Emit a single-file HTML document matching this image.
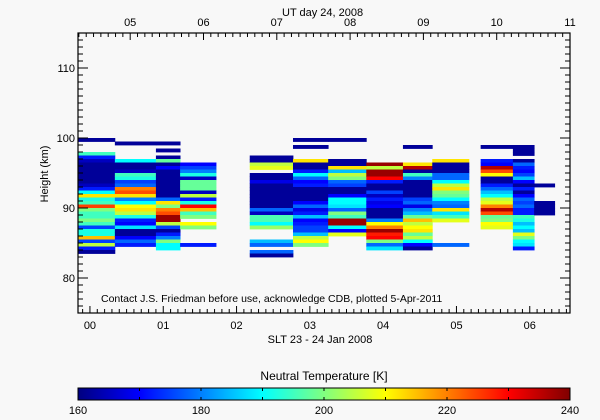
<!DOCTYPE html>
<html><head><meta charset="utf-8"><style>
html,body{margin:0;padding:0;background:#f8f8f8;}
svg{display:block;font-family:"Liberation Sans",sans-serif;}
</style></head><body>
<svg id="chart" width="600" height="420" viewBox="0 0 600 420" xmlns="http://www.w3.org/2000/svg">
<rect width="600" height="420" fill="#f8f8f8"/>
<g id="cells"></g>
<g id="axes"></g>
<text x="282" y="16" font-size="11">UT day 24, 2008</text>
<text x="320" y="343" font-size="11" text-anchor="middle">SLT 23 - 24 Jan 2008</text>
<text transform="translate(48,174) rotate(-90)" font-size="11" text-anchor="middle">Height (km)</text>
<text x="101" y="302" font-size="10.5">Contact J.S. Friedman before use, acknowledge CDB, plotted 5-Apr-2011</text>
<text x="324" y="380" font-size="12" text-anchor="middle">Neutral Temperature [K]</text>
<g id="cbar"></g>
</svg>
<script>
// column time ranges (SLT hours)
const colStart = [-0.16,0.34,0.90,1.23,2.18,2.77,3.25,3.77,4.27,4.67,5.33,5.77,6.06];
const colEnd   = [0.34,0.90,1.23,1.72,2.77,3.25,3.77,4.27,4.67,5.17,5.77,6.06,6.34];
// values per 0.5 km row starting at 100 km going down (null = no data)
const col0 = [162,null,null,null,195,172,165,162,162,162,162,162,162,165,172,190,212,192,195,225,200,195,195,200,195,175,192,192,215,175,205,172,162];
const col1 = [null,162,null,null,null,null,190,162,162,165,195,192,175,178,220,224,212,180,190,210,212,205,192,172,170,188,162,162,170,178,172];
const col2 = [null,162,null,162,null,162,198,162,170,162,162,162,162,162,162,162,162,178,212,200,220,224,238,238,205,175,162,172,180,200,190,190];
const col3 = [null,null,null,null,null,null,null,170,175,180,192,165,198,198,198,165,205,172,192,230,215,195,200,null,210,200,null,null,null,null,172];
const col4 = [null,null,null,null,null,162,162,205,208,null,162,162,168,162,162,162,162,162,162,162,178,165,196,196,190,202,null,null,null,185,178,null,178,162];
const col5 = [162,null,162,null,null,null,212,162,162,172,190,178,170,172,162,162,162,162,170,178,168,172,185,170,172,175,175,185,205,210,200];
const col6 = [162,null,null,null,null,null,162,162,212,185,205,200,178,175,162,162,170,190,190,188,178,200,195,238,238,190,170,208];
const col7 = [null,null,null,null,null,null,null,238,205,238,238,230,172,162,162,175,165,172,168,170,162,162,162,180,210,220,238,228,230,200,178,188];
const col8 = [null,null,162,null,null,null,null,212,236,162,195,180,162,162,162,162,162,175,178,168,180,185,198,215,205,210,212,198,205,190,170,162];
const col9 = [null,null,null,null,null,null,212,162,162,162,178,178,190,205,212,200,198,190,180,178,212,188,195,208,null,null,null,null,null,null,178];
const col10 = [null,null,162,null,null,null,172,170,236,224,210,162,162,172,178,185,190,205,208,220,236,224,198,200,210,208];
const col11 = [null,null,162,162,162,null,162,178,172,170,175,185,170,162,172,162,170,178,175,178,172,172,195,192,185,190,185,208,200,190,188,172];
const col12 = [null,null,null,null,null,null,null,null,null,null,null,null,null,162,null,null,null,null,162,162,162,162];
const columns = [col0,col1,col2,col3,col4,col5,col6,col7,col8,col9,col10,col11,col12];
const topHeight = 100, rowStep = 0.5;
const bottomTicks = ["00","01","02","03","04","05","06"];
const topTicks = ["05","06","07","08","09","10","11"];
const yTicks = [80,90,100,110];
const cbarTicks = [160,180,200,220,240];

const NS="http://www.w3.org/2000/svg";
const L=78,R=570,T=33,B=313;
const tMin=-0.163, tMax=6.549, hMin=75, hMax=115;
const vMin=160, vMax=240, utOffset=4.451;
function xS(t){return L+(t-tMin)/(tMax-tMin)*(R-L);}
function yS(h){return B-(h-hMin)/(hMax-hMin)*(B-T);}
function jet(v){
  let t=Math.max(0,Math.min(1,(v-vMin)/(vMax-vMin)));
  const f=x=>Math.round(255*Math.max(0,Math.min(1,x)));
  return `rgb(${f(1.5-Math.abs(4*t-3))},${f(1.5-Math.abs(4*t-2))},${f(1.5-Math.abs(4*t-1))})`;
}
function mk(tag,attrs,parent){const e=document.createElementNS(NS,tag);for(const k in attrs)e.setAttribute(k,attrs[k]);parent.appendChild(e);return e;}

const cells=document.getElementById('cells');
columns.forEach((col,ci)=>{
  const x0=xS(colStart[ci]), x1=xS(colEnd[ci]);
  col.forEach((v,ri)=>{
    if(v===null)return;
    const h0=topHeight-ri*rowStep, h1=h0-rowStep;
    const r=mk('rect',{x:x0,y:yS(h0),width:x1-x0+0.4,height:yS(h1)-yS(h0)+0.4,fill:jet(v)},cells);
    
    
  });
});

const ax=document.getElementById('axes');
const fr=mk('rect',{x:L,y:T,width:R-L,height:B-T,fill:'none',stroke:'#000','stroke-width':1.2},ax);


for(let k=Math.ceil(tMin*10);k<=Math.floor(tMax*10);k++){
  const x=xS(k/10), major=(k%10===0);
  mk('line',{x1:x,x2:x,y1:B,y2:B-(major?7:4),stroke:'#000'},ax);
}
bottomTicks.forEach((lab,i)=>{
  const t=mk('text',{x:xS(i),y:B+16,'font-size':11,'text-anchor':'middle'},ax);
  t.textContent=lab;
  
  
});
for(let k=Math.ceil((tMin+utOffset)*10);k<=Math.floor((tMax+utOffset)*10);k++){
  const x=xS(k/10-utOffset), major=(k%10===0);
  mk('line',{x1:x,x2:x,y1:T,y2:T+(major?7:4),stroke:'#000'},ax);
}
topTicks.forEach((lab)=>{
  const t=mk('text',{x:xS(parseInt(lab,10)-utOffset),y:T-7,'font-size':11,'text-anchor':'middle'},ax);
  t.textContent=lab;
  
  
});
for(let h=hMin+1;h<hMax;h++){
  const major=(h%10===0);
  mk('line',{x1:L,x2:L+(major?10:5),y1:yS(h),y2:yS(h),stroke:'#000'},ax);
  mk('line',{x1:R,x2:R-(major?10:5),y1:yS(h),y2:yS(h),stroke:'#000'},ax);
}
yTicks.forEach(h=>{
  const t=mk('text',{x:L-3,y:yS(h)+4,'font-size':11,'text-anchor':'end'},ax);
  t.textContent=h;
  
  
});

// colorbar
const cb=document.getElementById('cbar');
const cL=78,cR=570,cT=388,cB=400;
const defs=mk('defs',{},cb);
const g=mk('linearGradient',{id:'jetg',x1:0,x2:1,y1:0,y2:0},defs);
for(let i=0;i<=40;i++){mk('stop',{offset:i/40,'stop-color':jet(vMin+(vMax-vMin)*i/40)},g);}
const cbr=mk('rect',{x:cL,y:cT,width:cR-cL,height:cB-cT,fill:'url(#jetg)',stroke:'#000','stroke-width':1},cb);


const cx=v=>cL+(v-vMin)/(vMax-vMin)*(cR-cL);
for(let v=vMin+10;v<vMax;v+=10){
  mk('line',{x1:cx(v),x2:cx(v),y1:cT,y2:cT+3,stroke:'#000'},cb);
  mk('line',{x1:cx(v),x2:cx(v),y1:cB,y2:cB-3,stroke:'#000'},cb);
}
cbarTicks.forEach(v=>{
  const t=mk('text',{x:cx(v),y:414,'font-size':11,'text-anchor':'middle'},cb);
  t.textContent=v;
  
  
});
</script>
</body></html>
